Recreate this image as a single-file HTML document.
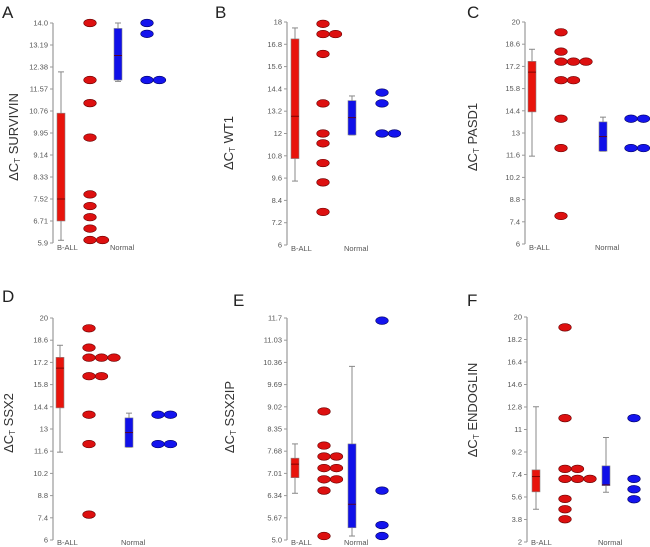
<!DOCTYPE html>
<html><head><meta charset="utf-8"><style>
html,body{margin:0;padding:0;background:#fff;}
svg{display:block;font-family:"Liberation Sans",sans-serif;}
</style></head><body>
<svg id="chart" width="650" height="547" xmlns="http://www.w3.org/2000/svg"></svg>
<script>
// ---- Data ----
const panelLetters = ["A","B","C","D","E","F"];
const panelGenes = ["SURVIVIN","WT1","PASD1","SSX2","SSX2IP","ENDOGLIN"];
const tickLabelsA = ["5.9","6.71","7.52","8.33","9.14","9.95","10.76","11.57","12.38","13.19","14.0"];
const tickLabelsB = ["6","7.2","8.4","9.6","10.8","12","13.2","14.4","15.6","16.8","18"];
const tickLabelsC = ["6","7.4","8.8","10.2","11.6","13","14.4","15.8","17.2","18.6","20"];
const tickLabelsD = ["6","7.4","8.8","10.2","11.6","13","14.4","15.8","17.2","18.6","20"];
const tickLabelsE = ["5.0","5.67","6.34","7.01","7.68","8.35","9.02","9.69","10.36","11.03","11.7"];
const tickLabelsF = ["2","3.8","5.6","7.4","9.2","11","12.8","14.6","16.4","18.2","20"];
// box stats: [whiskerLow, q1, median, q3, whiskerHigh]
const ballBoxA = [6.0, 6.71, 7.52, 10.68, 12.2];
const normBoxA = [11.85, 11.9, 12.8, 13.8, 14.0];
const ballBoxB = [9.44, 10.65, 12.93, 17.09, 17.68];
const normBoxB = [11.92, 11.92, 12.85, 13.77, 14.02];
const ballBoxC = [11.54, 14.33, 16.84, 17.52, 18.28];
const normBoxC = [11.85, 11.85, 12.77, 13.7, 14.0];
const ballBoxD = [11.54, 14.33, 16.84, 17.52, 18.28];
const normBoxD = [11.85, 11.85, 12.77, 13.7, 14.0];
const ballBoxE = [6.41, 6.88, 7.29, 7.47, 7.90];
const normBoxE = [5.12, 5.37, 6.08, 7.90, 10.24];
const ballBoxF = [4.62, 6.01, 7.23, 7.77, 12.82];
const normBoxF = [5.98, 6.51, 6.57, 8.09, 10.36];
// dot values: rows of [value, count]
const ballDotsA = [[14.0,1],[11.9,1],[11.05,1],[9.78,1],[7.69,1],[7.26,1],[6.85,1],[6.43,1],[6.01,2]];
const normDotsA = [[14.0,1],[13.6,1],[11.9,2]];
const ballDotsB = [[17.9,1],[17.35,2],[16.28,1],[13.62,1],[12.0,1],[11.47,1],[10.41,1],[9.37,1],[7.78,1]];
const normDotsB = [[14.2,1],[13.62,1],[12.0,2]];
const ballDotsC = [[19.35,1],[18.13,1],[17.5,3],[16.33,2],[13.9,1],[12.05,1],[7.77,1]];
const normDotsC = [[13.9,2],[12.05,2]];
const ballDotsD = [[19.35,1],[18.13,1],[17.5,3],[16.33,2],[13.9,1],[12.05,1],[7.6,1]];
const normDotsD = [[13.9,2],[12.05,2]];
const ballDotsE = [[8.88,1],[7.85,1],[7.52,2],[7.17,2],[6.83,2],[6.49,1],[5.12,1]];
const normDotsE = [[11.62,1],[6.49,1],[5.45,1],[5.12,1]];
const ballDotsF = [[19.17,1],[11.91,1],[7.85,2],[7.05,3],[5.45,1],[4.62,1],[3.82,1]];
const normDotsF = [[11.91,1],[7.05,1],[6.22,1],[5.42,1]];

const tickSets=[tickLabelsA,tickLabelsB,tickLabelsC,tickLabelsD,tickLabelsE,tickLabelsF];
const ballBoxes=[ballBoxA,ballBoxB,ballBoxC,ballBoxD,ballBoxE,ballBoxF];
const normBoxes=[normBoxA,normBoxB,normBoxC,normBoxD,normBoxE,normBoxF];
const ballDots=[ballDotsA,ballDotsB,ballDotsC,ballDotsD,ballDotsE,ballDotsF];
const normDots=[normDotsA,normDotsB,normDotsC,normDotsD,normDotsE,normDotsF];

// ---- Layout (pixels) ----
const layout=[
 {ax:53,top:23,bot:243,box1:57,dot1:90,box2:114,dot2:147,tx:14,ty:137,lx:2,ly:18,cl:7},
 {ax:287,top:22,bot:245,box1:291,dot1:323,box2:348,dot2:382,tx:229,ty:143,lx:215,ly:18,cl:6},
 {ax:525,top:22,bot:244,box1:528,dot1:561,box2:599,dot2:631,tx:473,ty:137,lx:467,ly:18,cl:6},
 {ax:53,top:318,bot:540,box1:56,dot1:89,box2:125,dot2:158,tx:9,ty:423,lx:2,ly:302,cl:5},
 {ax:287,top:318,bot:540,box1:291,dot1:324,box2:348,dot2:382,tx:230,ty:417,lx:233,ly:306,cl:5},
 {ax:527,top:317,bot:542,box1:532,dot1:565,box2:602,dot2:634,tx:473,ty:410,lx:467,ly:306,cl:3}
];
const NS="http://www.w3.org/2000/svg";
const svg=document.getElementById('chart');
function mk(tag,attrs,parent){const e=document.createElementNS(NS,tag);for(const k in attrs)e.setAttribute(k,attrs[k]);(parent||svg).appendChild(e);return e;}

for(let p=0;p<6;p++){
  const L=layout[p], ticks=tickSets[p];
  const vmin=parseFloat(ticks[0]), vmax=parseFloat(ticks[ticks.length-1]);
  const y=v=>L.bot-(v-vmin)/(vmax-vmin)*(L.bot-L.top);
  const g=mk('g',{});
  
  
  const letter=mk('text',{x:L.lx,y:L.ly,'font-size':17,fill:'#222'},g);letter.textContent=panelLetters[p];
  
  
  // y title
  const tt=mk('text',{x:L.tx,y:L.ty,'font-size':13,fill:'#333','text-anchor':'middle',transform:`rotate(-90 ${L.tx} ${L.ty})`,dy:'4'},g);
  
  
  const s1=mk('tspan',{},tt);s1.textContent='ΔC';
  const s2=mk('tspan',{'font-size':8,dy:'2'},tt);s2.textContent='T';
  const s3=mk('tspan',{dy:'-2'},tt);s3.textContent=' '+panelGenes[p];
  // axis
  const axl=mk('line',{x1:L.ax,y1:L.top,x2:L.ax,y2:L.bot,stroke:'#999','stroke-width':1.2},g);
  
  
  ticks.forEach(t=>{
    const v=parseFloat(t), yy=y(v);
    mk('line',{x1:L.ax-3,y1:yy,x2:L.ax,y2:yy,stroke:'#999'},g);
    const tx=mk('text',{x:L.ax-5,y:yy+2.5,'font-size':7.5,fill:'#555','text-anchor':'end'},g);
    tx.textContent=t;
    
    
  });
  // category labels
  const c1=mk('text',{x:L.ax+4,y:L.bot+L.cl,'font-size':7.5,fill:'#555'},g);c1.textContent='B-ALL';
  
  
  const c2=mk('text',{x:L.box2-4,y:L.bot+L.cl,'font-size':7.5,fill:'#555'},g);c2.textContent='Normal';
  
  
  // boxes
  [[ballBoxes[p],L.box1,'#e8140c','b-all'],[normBoxes[p],L.box2,'#1010e8','normal']].forEach(([b,x,col,nm])=>{
    const w=8, cx=x+w/2;
    mk('line',{x1:cx,y1:y(b[0]),x2:cx,y2:y(b[4]),stroke:'#888'},g);
    mk('line',{x1:cx-3,y1:y(b[0]),x2:cx+3,y2:y(b[0]),stroke:'#888'},g);
    mk('line',{x1:cx-3,y1:y(b[4]),x2:cx+3,y2:y(b[4]),stroke:'#888'},g);
    const r=mk('rect',{x:x,y:y(b[3]),width:w,height:Math.max(1,y(b[1])-y(b[3])),fill:col,stroke:'#888','stroke-width':0.6},g);
    
    
    mk('line',{x1:x,y1:y(b[2]),x2:x+w,y2:y(b[2]),stroke:'#600','stroke-width':0.8},g);
  });
  // dots
  [[ballDots[p],L.dot1,'#dd1010','#6a0000','b-all'],[normDots[p],L.dot2,'#1414ee','#000066','normal']].forEach(([rows,x0,col,sc,nm])=>{
    rows.forEach(([v,n])=>{
      for(let i=0;i<n;i++){
        const e=mk('ellipse',{cx:x0+i*12.5,cy:y(v),rx:6.3,ry:3.8,fill:col,stroke:sc,'stroke-width':0.6},g);
        
        
      }
    });
  });
}
</script>
</body></html>
